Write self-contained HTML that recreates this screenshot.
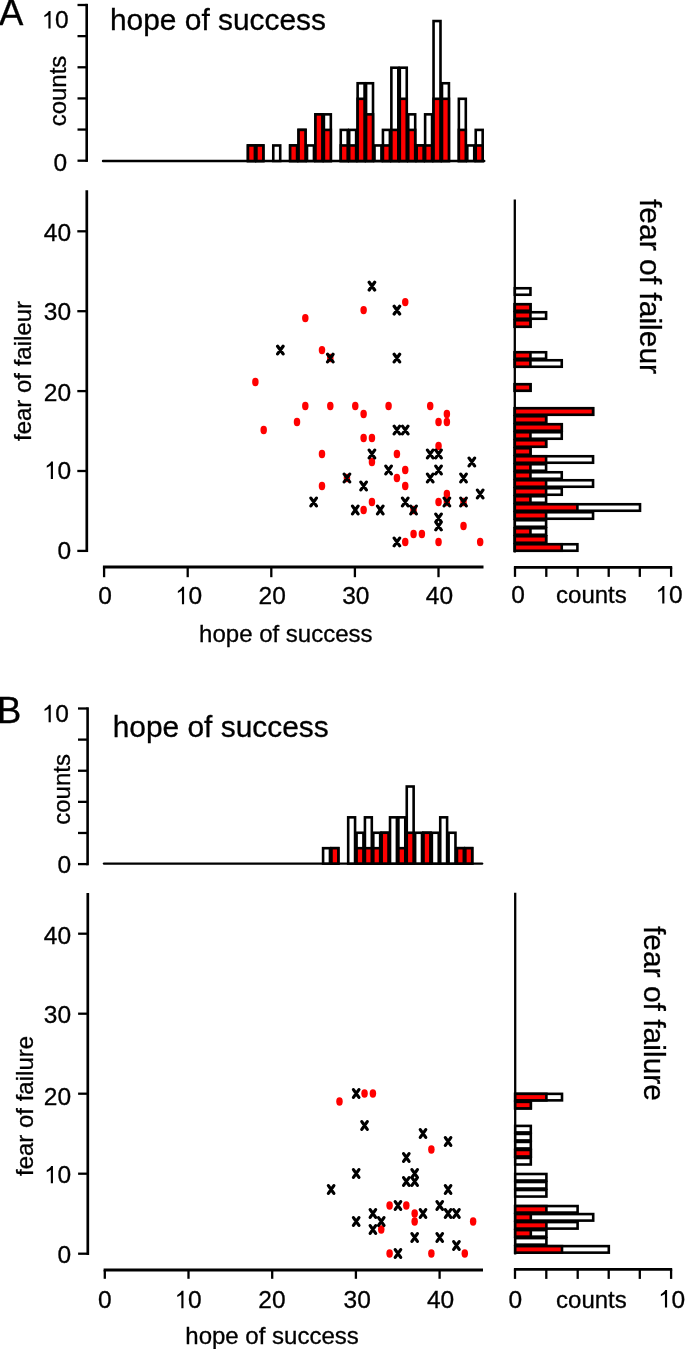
<!DOCTYPE html>
<html><head><meta charset="utf-8"><style>
html,body{margin:0;padding:0;background:#fff;}
body{width:685px;height:1349px;overflow:hidden;}
svg{display:block;will-change:transform;}
text{font-family:"Liberation Sans", sans-serif;fill:#000;stroke:#000;stroke-width:0.3px;}
</style></head><body>
<svg width="685" height="1349" viewBox="0 0 685 1349">
<rect x="0" y="0" width="685" height="1349" fill="#fff"/>
<text x="-0.9" y="25.4" font-size="36.5" text-anchor="start">A</text>
<line x1="103" y1="161" x2="484.22" y2="161" stroke="#000" stroke-width="2.4" stroke-linecap="round"/>
<rect x="247.96" y="145.45" width="6.94" height="15.55" fill="#fff" stroke="#000" stroke-width="2.6"/>
<rect x="247.96" y="145.45" width="6.94" height="15.55" fill="#ff0000" stroke="#000" stroke-width="2.6"/>
<rect x="256.4" y="145.45" width="6.94" height="15.55" fill="#fff" stroke="#000" stroke-width="2.6"/>
<rect x="256.4" y="145.45" width="6.94" height="15.55" fill="#ff0000" stroke="#000" stroke-width="2.6"/>
<rect x="273.27" y="145.45" width="6.94" height="15.55" fill="#fff" stroke="#000" stroke-width="2.6"/>
<rect x="290.14" y="145.45" width="6.94" height="15.55" fill="#fff" stroke="#000" stroke-width="2.6"/>
<rect x="290.14" y="145.45" width="6.94" height="15.55" fill="#ff0000" stroke="#000" stroke-width="2.6"/>
<rect x="298.58" y="129.9" width="6.94" height="31.1" fill="#fff" stroke="#000" stroke-width="2.6"/>
<rect x="298.58" y="129.9" width="6.94" height="31.1" fill="#ff0000" stroke="#000" stroke-width="2.6"/>
<rect x="307.01" y="145.45" width="6.94" height="15.55" fill="#fff" stroke="#000" stroke-width="2.6"/>
<rect x="315.45" y="114.35" width="6.94" height="46.65" fill="#fff" stroke="#000" stroke-width="2.6"/>
<rect x="315.45" y="114.35" width="6.94" height="46.65" fill="#ff0000" stroke="#000" stroke-width="2.6"/>
<rect x="323.89" y="114.35" width="6.94" height="46.65" fill="#fff" stroke="#000" stroke-width="2.6"/>
<rect x="323.89" y="129.9" width="6.94" height="31.1" fill="#ff0000" stroke="#000" stroke-width="2.6"/>
<rect x="340.76" y="129.9" width="6.94" height="31.1" fill="#fff" stroke="#000" stroke-width="2.6"/>
<rect x="340.76" y="145.45" width="6.94" height="15.55" fill="#ff0000" stroke="#000" stroke-width="2.6"/>
<rect x="349.19" y="129.9" width="6.94" height="31.1" fill="#fff" stroke="#000" stroke-width="2.6"/>
<rect x="349.19" y="145.45" width="6.94" height="15.55" fill="#ff0000" stroke="#000" stroke-width="2.6"/>
<rect x="357.63" y="83.25" width="6.94" height="77.75" fill="#fff" stroke="#000" stroke-width="2.6"/>
<rect x="357.63" y="98.8" width="6.94" height="62.2" fill="#ff0000" stroke="#000" stroke-width="2.6"/>
<rect x="366.07" y="83.25" width="6.94" height="77.75" fill="#fff" stroke="#000" stroke-width="2.6"/>
<rect x="366.07" y="114.35" width="6.94" height="46.65" fill="#ff0000" stroke="#000" stroke-width="2.6"/>
<rect x="374.5" y="145.45" width="6.94" height="15.55" fill="#fff" stroke="#000" stroke-width="2.6"/>
<rect x="382.94" y="129.9" width="6.94" height="31.1" fill="#fff" stroke="#000" stroke-width="2.6"/>
<rect x="382.94" y="145.45" width="6.94" height="15.55" fill="#ff0000" stroke="#000" stroke-width="2.6"/>
<rect x="391.37" y="67.7" width="6.94" height="93.3" fill="#fff" stroke="#000" stroke-width="2.6"/>
<rect x="391.37" y="129.9" width="6.94" height="31.1" fill="#ff0000" stroke="#000" stroke-width="2.6"/>
<rect x="399.81" y="67.7" width="6.94" height="93.3" fill="#fff" stroke="#000" stroke-width="2.6"/>
<rect x="399.81" y="98.8" width="6.94" height="62.2" fill="#ff0000" stroke="#000" stroke-width="2.6"/>
<rect x="408.25" y="114.35" width="6.94" height="46.65" fill="#fff" stroke="#000" stroke-width="2.6"/>
<rect x="408.25" y="129.9" width="6.94" height="31.1" fill="#ff0000" stroke="#000" stroke-width="2.6"/>
<rect x="416.68" y="145.45" width="6.94" height="15.55" fill="#fff" stroke="#000" stroke-width="2.6"/>
<rect x="416.68" y="145.45" width="6.94" height="15.55" fill="#ff0000" stroke="#000" stroke-width="2.6"/>
<rect x="425.12" y="114.35" width="6.94" height="46.65" fill="#fff" stroke="#000" stroke-width="2.6"/>
<rect x="425.12" y="145.45" width="6.94" height="15.55" fill="#ff0000" stroke="#000" stroke-width="2.6"/>
<rect x="433.55" y="21.05" width="6.94" height="139.95" fill="#fff" stroke="#000" stroke-width="2.6"/>
<rect x="433.55" y="98.8" width="6.94" height="62.2" fill="#ff0000" stroke="#000" stroke-width="2.6"/>
<rect x="441.99" y="83.25" width="6.94" height="77.75" fill="#fff" stroke="#000" stroke-width="2.6"/>
<rect x="441.99" y="98.8" width="6.94" height="62.2" fill="#ff0000" stroke="#000" stroke-width="2.6"/>
<rect x="458.86" y="98.8" width="6.94" height="62.2" fill="#fff" stroke="#000" stroke-width="2.6"/>
<rect x="458.86" y="129.9" width="6.94" height="31.1" fill="#ff0000" stroke="#000" stroke-width="2.6"/>
<rect x="467.3" y="145.45" width="6.94" height="15.55" fill="#fff" stroke="#000" stroke-width="2.6"/>
<rect x="475.73" y="129.9" width="6.94" height="31.1" fill="#fff" stroke="#000" stroke-width="2.6"/>
<rect x="475.73" y="145.45" width="6.94" height="15.55" fill="#ff0000" stroke="#000" stroke-width="2.6"/>
<line x1="86.7" y1="161.9" x2="86.7" y2="3.8" stroke="#000" stroke-width="2.6" stroke-linecap="butt"/>
<line x1="77.5" y1="160.7" x2="86.7" y2="160.7" stroke="#000" stroke-width="2.3" stroke-linecap="butt"/>
<line x1="77.5" y1="129.56" x2="86.7" y2="129.56" stroke="#000" stroke-width="2.3" stroke-linecap="butt"/>
<line x1="77.5" y1="98.42" x2="86.7" y2="98.42" stroke="#000" stroke-width="2.3" stroke-linecap="butt"/>
<line x1="77.5" y1="67.28" x2="86.7" y2="67.28" stroke="#000" stroke-width="2.3" stroke-linecap="butt"/>
<line x1="77.5" y1="36.14" x2="86.7" y2="36.14" stroke="#000" stroke-width="2.3" stroke-linecap="butt"/>
<line x1="77.5" y1="5" x2="86.7" y2="5" stroke="#000" stroke-width="2.3" stroke-linecap="butt"/>
<path d="M50.57 28.4H48.41V14.97L44.35 17.18V15.17C46.48 13.99 47.95 12.72 48.81 10.96H50.57Z" fill="#000"/>
<text x="55.08" y="28.4" font-size="24.5" text-anchor="start">0</text>
<text x="67.2" y="170.7" font-size="24.5" text-anchor="end">0</text>
<text x="66" y="91" font-size="24" text-anchor="middle" transform="rotate(-90 66 91)">counts</text>
<text x="110" y="29.7" font-size="29.9" text-anchor="start">hope of success</text>
<line x1="86.8" y1="190.2" x2="86.8" y2="552.1" stroke="#000" stroke-width="2.7" stroke-linecap="butt"/>
<line x1="77.3" y1="550.9" x2="87.8" y2="550.9" stroke="#000" stroke-width="2.3" stroke-linecap="butt"/>
<text x="71.1" y="559.35" font-size="24.5" text-anchor="end">0</text>
<line x1="77.3" y1="471" x2="87.8" y2="471" stroke="#000" stroke-width="2.3" stroke-linecap="butt"/>
<path d="M52.97 478.95H50.81V465.52L46.75 467.73V465.72C48.88 464.54 50.35 463.27 51.21 461.51H52.97Z" fill="#000"/>
<text x="57.48" y="478.95" font-size="24.5" text-anchor="start">0</text>
<line x1="77.3" y1="391.1" x2="87.8" y2="391.1" stroke="#000" stroke-width="2.3" stroke-linecap="butt"/>
<text x="71.1" y="400.95" font-size="24.5" text-anchor="end">20</text>
<line x1="77.3" y1="311.2" x2="87.8" y2="311.2" stroke="#000" stroke-width="2.3" stroke-linecap="butt"/>
<text x="71.1" y="319.85" font-size="24.5" text-anchor="end">30</text>
<line x1="77.3" y1="231.3" x2="87.8" y2="231.3" stroke="#000" stroke-width="2.3" stroke-linecap="butt"/>
<text x="71.1" y="240.75" font-size="24.5" text-anchor="end">40</text>
<line x1="102.9" y1="567" x2="483.5" y2="567" stroke="#000" stroke-width="2.9" stroke-linecap="butt"/>
<line x1="104.1" y1="567" x2="104.1" y2="577.2" stroke="#000" stroke-width="2.3" stroke-linecap="butt"/>
<text x="105" y="604.2" font-size="24.5" text-anchor="middle">0</text>
<line x1="187.7" y1="567" x2="187.7" y2="577.2" stroke="#000" stroke-width="2.3" stroke-linecap="butt"/>
<path d="M184.09 604.2H181.94V590.77L177.87 592.98V590.97C180 589.79 181.47 588.52 182.33 586.76H184.09Z" fill="#000"/>
<text x="188.6" y="604.2" font-size="24.5" text-anchor="start">0</text>
<line x1="271.3" y1="567" x2="271.3" y2="577.2" stroke="#000" stroke-width="2.3" stroke-linecap="butt"/>
<text x="272.2" y="604.2" font-size="24.5" text-anchor="middle">20</text>
<line x1="354.9" y1="567" x2="354.9" y2="577.2" stroke="#000" stroke-width="2.3" stroke-linecap="butt"/>
<text x="355.8" y="604.2" font-size="24.5" text-anchor="middle">30</text>
<line x1="438.5" y1="567" x2="438.5" y2="577.2" stroke="#000" stroke-width="2.3" stroke-linecap="butt"/>
<text x="439.4" y="604.2" font-size="24.5" text-anchor="middle">40</text>
<text x="199.1" y="641.9" font-size="24" text-anchor="start">hope of success</text>
<text x="31.4" y="441" font-size="24" text-anchor="start" transform="rotate(-90 31.4 441)">fear of faileur</text>
<ellipse cx="405.24" cy="302.11" rx="3.25" ry="4.2" fill="#ff0000"/>
<ellipse cx="363.61" cy="310.1" rx="3.25" ry="4.2" fill="#ff0000"/>
<ellipse cx="305.32" cy="318.1" rx="3.25" ry="4.2" fill="#ff0000"/>
<ellipse cx="321.98" cy="350.08" rx="3.25" ry="4.2" fill="#ff0000"/>
<ellipse cx="330.3" cy="358.07" rx="3.25" ry="4.2" fill="#ff0000"/>
<ellipse cx="255.37" cy="382.06" rx="3.25" ry="4.2" fill="#ff0000"/>
<ellipse cx="305.32" cy="406.04" rx="3.25" ry="4.2" fill="#ff0000"/>
<ellipse cx="330.3" cy="406.04" rx="3.25" ry="4.2" fill="#ff0000"/>
<ellipse cx="355.28" cy="406.04" rx="3.25" ry="4.2" fill="#ff0000"/>
<ellipse cx="388.58" cy="406.04" rx="3.25" ry="4.2" fill="#ff0000"/>
<ellipse cx="430.21" cy="406.04" rx="3.25" ry="4.2" fill="#ff0000"/>
<ellipse cx="363.61" cy="414.04" rx="3.25" ry="4.2" fill="#ff0000"/>
<ellipse cx="446.87" cy="414.04" rx="3.25" ry="4.2" fill="#ff0000"/>
<ellipse cx="297" cy="422.03" rx="3.25" ry="4.2" fill="#ff0000"/>
<ellipse cx="438.54" cy="422.03" rx="3.25" ry="4.2" fill="#ff0000"/>
<ellipse cx="446.87" cy="422.03" rx="3.25" ry="4.2" fill="#ff0000"/>
<ellipse cx="263.69" cy="430.03" rx="3.25" ry="4.2" fill="#ff0000"/>
<ellipse cx="363.61" cy="438.02" rx="3.25" ry="4.2" fill="#ff0000"/>
<ellipse cx="371.93" cy="438.02" rx="3.25" ry="4.2" fill="#ff0000"/>
<ellipse cx="438.54" cy="446.02" rx="3.25" ry="4.2" fill="#ff0000"/>
<ellipse cx="321.98" cy="454.01" rx="3.25" ry="4.2" fill="#ff0000"/>
<ellipse cx="396.91" cy="454.01" rx="3.25" ry="4.2" fill="#ff0000"/>
<ellipse cx="371.93" cy="462.01" rx="3.25" ry="4.2" fill="#ff0000"/>
<ellipse cx="405.24" cy="470" rx="3.25" ry="4.2" fill="#ff0000"/>
<ellipse cx="346.95" cy="478" rx="3.25" ry="4.2" fill="#ff0000"/>
<ellipse cx="396.91" cy="478" rx="3.25" ry="4.2" fill="#ff0000"/>
<ellipse cx="321.98" cy="485.99" rx="3.25" ry="4.2" fill="#ff0000"/>
<ellipse cx="405.24" cy="485.99" rx="3.25" ry="4.2" fill="#ff0000"/>
<ellipse cx="446.87" cy="493.99" rx="3.25" ry="4.2" fill="#ff0000"/>
<ellipse cx="371.93" cy="501.98" rx="3.25" ry="4.2" fill="#ff0000"/>
<ellipse cx="438.54" cy="501.98" rx="3.25" ry="4.2" fill="#ff0000"/>
<ellipse cx="446.87" cy="501.98" rx="3.25" ry="4.2" fill="#ff0000"/>
<ellipse cx="463.52" cy="501.98" rx="3.25" ry="4.2" fill="#ff0000"/>
<ellipse cx="363.61" cy="509.98" rx="3.25" ry="4.2" fill="#ff0000"/>
<ellipse cx="413.56" cy="509.98" rx="3.25" ry="4.2" fill="#ff0000"/>
<ellipse cx="463.52" cy="525.97" rx="3.25" ry="4.2" fill="#ff0000"/>
<ellipse cx="413.56" cy="533.96" rx="3.25" ry="4.2" fill="#ff0000"/>
<ellipse cx="421.89" cy="533.96" rx="3.25" ry="4.2" fill="#ff0000"/>
<ellipse cx="405.24" cy="541.96" rx="3.25" ry="4.2" fill="#ff0000"/>
<ellipse cx="438.54" cy="541.96" rx="3.25" ry="4.2" fill="#ff0000"/>
<ellipse cx="480.17" cy="541.96" rx="3.25" ry="4.2" fill="#ff0000"/>
<path d="M369.18 282.27L374.68 289.97M369.18 289.97L374.68 282.27M394.16 306.25L399.66 313.95M394.16 313.95L399.66 306.25M277.6 346.23L283.1 353.93M277.6 353.93L283.1 346.23M327.55 354.22L333.05 361.92M327.55 361.92L333.05 354.22M394.16 354.22L399.66 361.92M394.16 361.92L399.66 354.22M394.16 426.18L399.66 433.88M394.16 433.88L399.66 426.18M402.49 426.18L407.99 433.88M402.49 433.88L407.99 426.18M369.18 450.16L374.68 457.86M369.18 457.86L374.68 450.16M427.46 450.16L432.96 457.86M427.46 457.86L432.96 450.16M435.79 450.16L441.29 457.86M435.79 457.86L441.29 450.16M469.09 458.16L474.59 465.86M469.09 465.86L474.59 458.16M385.83 466.15L391.33 473.85M385.83 473.85L391.33 466.15M435.79 466.15L441.29 473.85M435.79 473.85L441.29 466.15M344.2 474.15L349.7 481.85M344.2 481.85L349.7 474.15M427.46 474.15L432.96 481.85M427.46 481.85L432.96 474.15M460.77 474.15L466.27 481.85M460.77 481.85L466.27 474.15M360.86 482.14L366.36 489.84M360.86 489.84L366.36 482.14M477.42 490.13L482.92 497.84M477.42 497.84L482.92 490.13M310.9 498.13L316.4 505.83M310.9 505.83L316.4 498.13M402.49 498.13L407.99 505.83M402.49 505.83L407.99 498.13M444.12 498.13L449.62 505.83M444.12 505.83L449.62 498.13M460.77 498.13L466.27 505.83M460.77 505.83L466.27 498.13M352.53 506.12L358.03 513.83M352.53 513.83L358.03 506.12M377.51 506.12L383.01 513.83M377.51 513.83L383.01 506.12M410.81 506.12L416.31 513.83M410.81 513.83L416.31 506.12M435.79 514.12L441.29 521.82M435.79 521.82L441.29 514.12M435.79 522.12L441.29 529.82M435.79 529.82L441.29 522.12M394.16 538.11L399.66 545.81M394.16 545.81L399.66 538.11" stroke="#000" stroke-width="3.2" stroke-linecap="round" fill="none"/>
<line x1="514.8" y1="552.5" x2="514.8" y2="199.5" stroke="#000" stroke-width="2.3" stroke-linecap="butt"/>
<rect x="514.8" y="544.25" width="62.6" height="6.5" fill="#fff" stroke="#000" stroke-width="2.6"/>
<rect x="514.8" y="544.25" width="46.95" height="6.5" fill="#ff0000" stroke="#000" stroke-width="2.6"/>
<rect x="514.8" y="536.25" width="31.3" height="6.5" fill="#fff" stroke="#000" stroke-width="2.6"/>
<rect x="514.8" y="536.25" width="31.3" height="6.5" fill="#ff0000" stroke="#000" stroke-width="2.6"/>
<rect x="514.8" y="528.25" width="31.3" height="6.5" fill="#fff" stroke="#000" stroke-width="2.6"/>
<rect x="514.8" y="528.25" width="15.65" height="6.5" fill="#ff0000" stroke="#000" stroke-width="2.6"/>
<rect x="514.8" y="520.25" width="31.3" height="6.5" fill="#fff" stroke="#000" stroke-width="2.6"/>
<rect x="514.8" y="512.25" width="78.25" height="6.5" fill="#fff" stroke="#000" stroke-width="2.6"/>
<rect x="514.8" y="512.25" width="31.3" height="6.5" fill="#ff0000" stroke="#000" stroke-width="2.6"/>
<rect x="514.8" y="504.25" width="125.2" height="6.5" fill="#fff" stroke="#000" stroke-width="2.6"/>
<rect x="514.8" y="504.25" width="62.6" height="6.5" fill="#ff0000" stroke="#000" stroke-width="2.6"/>
<rect x="514.8" y="496.25" width="31.3" height="6.5" fill="#fff" stroke="#000" stroke-width="2.6"/>
<rect x="514.8" y="496.25" width="15.65" height="6.5" fill="#ff0000" stroke="#000" stroke-width="2.6"/>
<rect x="514.8" y="488.25" width="46.95" height="6.5" fill="#fff" stroke="#000" stroke-width="2.6"/>
<rect x="514.8" y="488.25" width="31.3" height="6.5" fill="#ff0000" stroke="#000" stroke-width="2.6"/>
<rect x="514.8" y="480.25" width="78.25" height="6.5" fill="#fff" stroke="#000" stroke-width="2.6"/>
<rect x="514.8" y="480.25" width="31.3" height="6.5" fill="#ff0000" stroke="#000" stroke-width="2.6"/>
<rect x="514.8" y="472.25" width="46.95" height="6.5" fill="#fff" stroke="#000" stroke-width="2.6"/>
<rect x="514.8" y="472.25" width="15.65" height="6.5" fill="#ff0000" stroke="#000" stroke-width="2.6"/>
<rect x="514.8" y="464.25" width="31.3" height="6.5" fill="#fff" stroke="#000" stroke-width="2.6"/>
<rect x="514.8" y="464.25" width="15.65" height="6.5" fill="#ff0000" stroke="#000" stroke-width="2.6"/>
<rect x="514.8" y="456.25" width="78.25" height="6.5" fill="#fff" stroke="#000" stroke-width="2.6"/>
<rect x="514.8" y="456.25" width="31.3" height="6.5" fill="#ff0000" stroke="#000" stroke-width="2.6"/>
<rect x="514.8" y="448.25" width="15.65" height="6.5" fill="#fff" stroke="#000" stroke-width="2.6"/>
<rect x="514.8" y="448.25" width="15.65" height="6.5" fill="#ff0000" stroke="#000" stroke-width="2.6"/>
<rect x="514.8" y="440.25" width="31.3" height="6.5" fill="#fff" stroke="#000" stroke-width="2.6"/>
<rect x="514.8" y="440.25" width="31.3" height="6.5" fill="#ff0000" stroke="#000" stroke-width="2.6"/>
<rect x="514.8" y="432.25" width="46.95" height="6.5" fill="#fff" stroke="#000" stroke-width="2.6"/>
<rect x="514.8" y="432.25" width="15.65" height="6.5" fill="#ff0000" stroke="#000" stroke-width="2.6"/>
<rect x="514.8" y="424.25" width="46.95" height="6.5" fill="#fff" stroke="#000" stroke-width="2.6"/>
<rect x="514.8" y="424.25" width="46.95" height="6.5" fill="#ff0000" stroke="#000" stroke-width="2.6"/>
<rect x="514.8" y="416.25" width="31.3" height="6.5" fill="#fff" stroke="#000" stroke-width="2.6"/>
<rect x="514.8" y="416.25" width="31.3" height="6.5" fill="#ff0000" stroke="#000" stroke-width="2.6"/>
<rect x="514.8" y="408.25" width="78.25" height="6.5" fill="#fff" stroke="#000" stroke-width="2.6"/>
<rect x="514.8" y="408.25" width="78.25" height="6.5" fill="#ff0000" stroke="#000" stroke-width="2.6"/>
<rect x="514.8" y="384.25" width="15.65" height="6.5" fill="#fff" stroke="#000" stroke-width="2.6"/>
<rect x="514.8" y="384.25" width="15.65" height="6.5" fill="#ff0000" stroke="#000" stroke-width="2.6"/>
<rect x="514.8" y="360.25" width="46.95" height="6.5" fill="#fff" stroke="#000" stroke-width="2.6"/>
<rect x="514.8" y="360.25" width="15.65" height="6.5" fill="#ff0000" stroke="#000" stroke-width="2.6"/>
<rect x="514.8" y="352.25" width="31.3" height="6.5" fill="#fff" stroke="#000" stroke-width="2.6"/>
<rect x="514.8" y="352.25" width="15.65" height="6.5" fill="#ff0000" stroke="#000" stroke-width="2.6"/>
<rect x="514.8" y="320.25" width="15.65" height="6.5" fill="#fff" stroke="#000" stroke-width="2.6"/>
<rect x="514.8" y="320.25" width="15.65" height="6.5" fill="#ff0000" stroke="#000" stroke-width="2.6"/>
<rect x="514.8" y="312.25" width="31.3" height="6.5" fill="#fff" stroke="#000" stroke-width="2.6"/>
<rect x="514.8" y="312.25" width="15.65" height="6.5" fill="#ff0000" stroke="#000" stroke-width="2.6"/>
<rect x="514.8" y="304.25" width="15.65" height="6.5" fill="#fff" stroke="#000" stroke-width="2.6"/>
<rect x="514.8" y="304.25" width="15.65" height="6.5" fill="#ff0000" stroke="#000" stroke-width="2.6"/>
<rect x="514.8" y="288.25" width="15.65" height="6.5" fill="#fff" stroke="#000" stroke-width="2.6"/>
<line x1="513.9" y1="567.4" x2="672.2" y2="567.4" stroke="#000" stroke-width="2.6" stroke-linecap="butt"/>
<line x1="515" y1="567.4" x2="515" y2="576.9" stroke="#000" stroke-width="2.3" stroke-linecap="butt"/>
<line x1="546.3" y1="567.4" x2="546.3" y2="576.9" stroke="#000" stroke-width="2.3" stroke-linecap="butt"/>
<line x1="577.7" y1="567.4" x2="577.7" y2="576.9" stroke="#000" stroke-width="2.3" stroke-linecap="butt"/>
<line x1="608.7" y1="567.4" x2="608.7" y2="576.9" stroke="#000" stroke-width="2.3" stroke-linecap="butt"/>
<line x1="639.8" y1="567.4" x2="639.8" y2="576.9" stroke="#000" stroke-width="2.3" stroke-linecap="butt"/>
<line x1="671.1" y1="567.4" x2="671.1" y2="576.9" stroke="#000" stroke-width="2.3" stroke-linecap="butt"/>
<text x="518.05" y="603.4" font-size="24.5" text-anchor="middle">0</text>
<text x="591.4" y="603.4" font-size="24" text-anchor="middle">counts</text>
<path d="M664.39 603.4H662.24V589.97L658.17 592.18V590.17C660.3 588.99 661.77 587.72 662.63 585.96H664.39Z" fill="#000"/>
<text x="668.9" y="603.4" font-size="24.5" text-anchor="start">0</text>
<text x="639.9" y="199" font-size="30" text-anchor="start" transform="rotate(90 639.9 199)">fear of faileur</text>
<text x="-3" y="722.8" font-size="36.5" text-anchor="start">B</text>
<line x1="104" y1="863.6" x2="482.12" y2="863.6" stroke="#000" stroke-width="2.4" stroke-linecap="round"/>
<rect x="323.09" y="848.18" width="6.87" height="15.42" fill="#fff" stroke="#000" stroke-width="2.6"/>
<rect x="331.46" y="848.18" width="6.87" height="15.42" fill="#fff" stroke="#000" stroke-width="2.6"/>
<rect x="331.46" y="848.18" width="6.87" height="15.42" fill="#ff0000" stroke="#000" stroke-width="2.6"/>
<rect x="348.19" y="817.34" width="6.87" height="46.26" fill="#fff" stroke="#000" stroke-width="2.6"/>
<rect x="356.56" y="832.76" width="6.87" height="30.84" fill="#fff" stroke="#000" stroke-width="2.6"/>
<rect x="356.56" y="848.18" width="6.87" height="15.42" fill="#ff0000" stroke="#000" stroke-width="2.6"/>
<rect x="364.93" y="817.34" width="6.87" height="46.26" fill="#fff" stroke="#000" stroke-width="2.6"/>
<rect x="364.93" y="848.18" width="6.87" height="15.42" fill="#ff0000" stroke="#000" stroke-width="2.6"/>
<rect x="373.29" y="832.76" width="6.87" height="30.84" fill="#fff" stroke="#000" stroke-width="2.6"/>
<rect x="373.29" y="848.18" width="6.87" height="15.42" fill="#ff0000" stroke="#000" stroke-width="2.6"/>
<rect x="381.66" y="832.76" width="6.87" height="30.84" fill="#fff" stroke="#000" stroke-width="2.6"/>
<rect x="381.66" y="832.76" width="6.87" height="30.84" fill="#ff0000" stroke="#000" stroke-width="2.6"/>
<rect x="390.03" y="817.34" width="6.87" height="46.26" fill="#fff" stroke="#000" stroke-width="2.6"/>
<rect x="398.4" y="817.34" width="6.87" height="46.26" fill="#fff" stroke="#000" stroke-width="2.6"/>
<rect x="398.4" y="848.18" width="6.87" height="15.42" fill="#ff0000" stroke="#000" stroke-width="2.6"/>
<rect x="406.76" y="786.5" width="6.87" height="77.1" fill="#fff" stroke="#000" stroke-width="2.6"/>
<rect x="406.76" y="832.76" width="6.87" height="30.84" fill="#ff0000" stroke="#000" stroke-width="2.6"/>
<rect x="415.13" y="832.76" width="6.87" height="30.84" fill="#fff" stroke="#000" stroke-width="2.6"/>
<rect x="423.5" y="832.76" width="6.87" height="30.84" fill="#fff" stroke="#000" stroke-width="2.6"/>
<rect x="423.5" y="832.76" width="6.87" height="30.84" fill="#ff0000" stroke="#000" stroke-width="2.6"/>
<rect x="431.86" y="832.76" width="6.87" height="30.84" fill="#fff" stroke="#000" stroke-width="2.6"/>
<rect x="440.23" y="817.34" width="6.87" height="46.26" fill="#fff" stroke="#000" stroke-width="2.6"/>
<rect x="448.6" y="832.76" width="6.87" height="30.84" fill="#fff" stroke="#000" stroke-width="2.6"/>
<rect x="456.96" y="848.18" width="6.87" height="15.42" fill="#fff" stroke="#000" stroke-width="2.6"/>
<rect x="456.96" y="848.18" width="6.87" height="15.42" fill="#ff0000" stroke="#000" stroke-width="2.6"/>
<rect x="465.33" y="848.18" width="6.87" height="15.42" fill="#fff" stroke="#000" stroke-width="2.6"/>
<rect x="465.33" y="848.18" width="6.87" height="15.42" fill="#ff0000" stroke="#000" stroke-width="2.6"/>
<line x1="87.6" y1="865.3" x2="87.6" y2="707.3" stroke="#000" stroke-width="2.6" stroke-linecap="butt"/>
<line x1="78" y1="864.1" x2="87.6" y2="864.1" stroke="#000" stroke-width="2.3" stroke-linecap="butt"/>
<line x1="78" y1="832.98" x2="87.6" y2="832.98" stroke="#000" stroke-width="2.3" stroke-linecap="butt"/>
<line x1="78" y1="801.86" x2="87.6" y2="801.86" stroke="#000" stroke-width="2.3" stroke-linecap="butt"/>
<line x1="78" y1="770.74" x2="87.6" y2="770.74" stroke="#000" stroke-width="2.3" stroke-linecap="butt"/>
<line x1="78" y1="739.62" x2="87.6" y2="739.62" stroke="#000" stroke-width="2.3" stroke-linecap="butt"/>
<line x1="78" y1="708.5" x2="87.6" y2="708.5" stroke="#000" stroke-width="2.3" stroke-linecap="butt"/>
<path d="M50.77 722.2H48.61V708.77L44.55 710.98V708.97C46.68 707.79 48.15 706.52 49.01 704.76H50.77Z" fill="#000"/>
<text x="55.28" y="722.2" font-size="24.5" text-anchor="start">0</text>
<text x="71.2" y="872.6" font-size="24.5" text-anchor="end">0</text>
<text x="69.9" y="789.4" font-size="24" text-anchor="middle" transform="rotate(-90 69.9 789.4)">counts</text>
<text x="112.7" y="736.8" font-size="29.9" text-anchor="start">hope of success</text>
<line x1="87.8" y1="892.9" x2="87.8" y2="1254.9" stroke="#000" stroke-width="2.7" stroke-linecap="butt"/>
<line x1="78.1" y1="1253.7" x2="88.8" y2="1253.7" stroke="#000" stroke-width="2.3" stroke-linecap="butt"/>
<text x="71.1" y="1262.85" font-size="24.5" text-anchor="end">0</text>
<line x1="78.1" y1="1173.7" x2="88.8" y2="1173.7" stroke="#000" stroke-width="2.3" stroke-linecap="butt"/>
<path d="M52.97 1183.35H50.81V1169.92L46.75 1172.13V1170.12C48.88 1168.94 50.35 1167.67 51.21 1165.91H52.97Z" fill="#000"/>
<text x="57.48" y="1183.35" font-size="24.5" text-anchor="start">0</text>
<line x1="78.1" y1="1093.7" x2="88.8" y2="1093.7" stroke="#000" stroke-width="2.3" stroke-linecap="butt"/>
<text x="71.1" y="1104.65" font-size="24.5" text-anchor="end">20</text>
<line x1="78.1" y1="1013.7" x2="88.8" y2="1013.7" stroke="#000" stroke-width="2.3" stroke-linecap="butt"/>
<text x="71.1" y="1022.65" font-size="24.5" text-anchor="end">30</text>
<line x1="78.1" y1="933.7" x2="88.8" y2="933.7" stroke="#000" stroke-width="2.3" stroke-linecap="butt"/>
<text x="71.1" y="944.45" font-size="24.5" text-anchor="end">40</text>
<line x1="103.6" y1="1270" x2="483" y2="1270" stroke="#000" stroke-width="2.9" stroke-linecap="butt"/>
<line x1="104.8" y1="1270" x2="104.8" y2="1278.8" stroke="#000" stroke-width="2.3" stroke-linecap="butt"/>
<text x="104.8" y="1308.3" font-size="24.5" text-anchor="middle">0</text>
<line x1="188.5" y1="1270" x2="188.5" y2="1278.8" stroke="#000" stroke-width="2.3" stroke-linecap="butt"/>
<path d="M183.49 1308.3H181.34V1294.87L177.27 1297.08V1295.07C179.4 1293.89 180.87 1292.62 181.73 1290.86H183.49Z" fill="#000"/>
<text x="188" y="1308.3" font-size="24.5" text-anchor="start">0</text>
<line x1="272.2" y1="1270" x2="272.2" y2="1278.8" stroke="#000" stroke-width="2.3" stroke-linecap="butt"/>
<text x="271.9" y="1308.3" font-size="24.5" text-anchor="middle">20</text>
<line x1="355.9" y1="1270" x2="355.9" y2="1278.8" stroke="#000" stroke-width="2.3" stroke-linecap="butt"/>
<text x="357.2" y="1308.3" font-size="24.5" text-anchor="middle">30</text>
<line x1="439.6" y1="1270" x2="439.6" y2="1278.8" stroke="#000" stroke-width="2.3" stroke-linecap="butt"/>
<text x="440.6" y="1308.3" font-size="24.5" text-anchor="middle">40</text>
<text x="185.3" y="1343.6" font-size="24" text-anchor="start">hope of success</text>
<text x="33.3" y="1176" font-size="24" text-anchor="start" transform="rotate(-90 33.3 1176)">fear of failure</text>
<ellipse cx="339.48" cy="1101.5" rx="3.25" ry="4.2" fill="#ff0000"/>
<ellipse cx="364.54" cy="1093.5" rx="3.25" ry="4.2" fill="#ff0000"/>
<ellipse cx="372.9" cy="1093.5" rx="3.25" ry="4.2" fill="#ff0000"/>
<ellipse cx="431.37" cy="1149.5" rx="3.25" ry="4.2" fill="#ff0000"/>
<ellipse cx="389.6" cy="1205.5" rx="3.25" ry="4.2" fill="#ff0000"/>
<ellipse cx="406.31" cy="1205.5" rx="3.25" ry="4.2" fill="#ff0000"/>
<ellipse cx="414.66" cy="1213.5" rx="3.25" ry="4.2" fill="#ff0000"/>
<ellipse cx="414.66" cy="1221.5" rx="3.25" ry="4.2" fill="#ff0000"/>
<ellipse cx="473.13" cy="1221.5" rx="3.25" ry="4.2" fill="#ff0000"/>
<ellipse cx="381.25" cy="1229.5" rx="3.25" ry="4.2" fill="#ff0000"/>
<ellipse cx="389.6" cy="1253.5" rx="3.25" ry="4.2" fill="#ff0000"/>
<ellipse cx="431.37" cy="1253.5" rx="3.25" ry="4.2" fill="#ff0000"/>
<ellipse cx="464.78" cy="1253.5" rx="3.25" ry="4.2" fill="#ff0000"/>
<path d="M353.44 1089.65L358.94 1097.35M353.44 1097.35L358.94 1089.65M361.79 1121.65L367.29 1129.35M361.79 1129.35L367.29 1121.65M420.26 1129.65L425.76 1137.35M420.26 1137.35L425.76 1129.65M445.32 1137.65L450.82 1145.35M445.32 1145.35L450.82 1137.65M403.56 1153.65L409.06 1161.35M403.56 1161.35L409.06 1153.65M353.44 1169.65L358.94 1177.35M353.44 1177.35L358.94 1169.65M411.91 1169.65L417.41 1177.35M411.91 1177.35L417.41 1169.65M403.56 1177.65L409.06 1185.35M403.56 1185.35L409.06 1177.65M411.91 1177.65L417.41 1185.35M411.91 1185.35L417.41 1177.65M328.38 1185.65L333.88 1193.35M328.38 1193.35L333.88 1185.65M445.32 1185.65L450.82 1193.35M445.32 1193.35L450.82 1185.65M395.21 1201.65L400.71 1209.35M395.21 1209.35L400.71 1201.65M436.97 1201.65L442.47 1209.35M436.97 1209.35L442.47 1201.65M370.15 1209.65L375.65 1217.35M370.15 1217.35L375.65 1209.65M420.26 1209.65L425.76 1217.35M420.26 1217.35L425.76 1209.65M445.32 1209.65L450.82 1217.35M445.32 1217.35L450.82 1209.65M453.68 1209.65L459.18 1217.35M453.68 1217.35L459.18 1209.65M353.44 1217.65L358.94 1225.35M353.44 1225.35L358.94 1217.65M378.5 1217.65L384 1225.35M378.5 1225.35L384 1217.65M370.15 1225.65L375.65 1233.35M370.15 1233.35L375.65 1225.65M411.91 1233.65L417.41 1241.35M411.91 1241.35L417.41 1233.65M436.97 1233.65L442.47 1241.35M436.97 1241.35L442.47 1233.65M453.68 1241.65L459.18 1249.35M453.68 1249.35L459.18 1241.65M395.21 1249.65L400.71 1257.35M395.21 1257.35L400.71 1249.65" stroke="#000" stroke-width="3.2" stroke-linecap="round" fill="none"/>
<line x1="515.2" y1="1254.4" x2="515.2" y2="892.73" stroke="#000" stroke-width="2.3" stroke-linecap="butt"/>
<rect x="515.2" y="1246.13" width="93.6" height="6.52" fill="#fff" stroke="#000" stroke-width="2.6"/>
<rect x="515.2" y="1246.13" width="46.8" height="6.52" fill="#ff0000" stroke="#000" stroke-width="2.6"/>
<rect x="515.2" y="1238.12" width="31.2" height="6.52" fill="#fff" stroke="#000" stroke-width="2.6"/>
<rect x="515.2" y="1230.11" width="31.2" height="6.52" fill="#fff" stroke="#000" stroke-width="2.6"/>
<rect x="515.2" y="1230.11" width="15.6" height="6.52" fill="#ff0000" stroke="#000" stroke-width="2.6"/>
<rect x="515.2" y="1222.09" width="62.4" height="6.52" fill="#fff" stroke="#000" stroke-width="2.6"/>
<rect x="515.2" y="1222.09" width="31.2" height="6.52" fill="#ff0000" stroke="#000" stroke-width="2.6"/>
<rect x="515.2" y="1214.08" width="78" height="6.52" fill="#fff" stroke="#000" stroke-width="2.6"/>
<rect x="515.2" y="1214.08" width="15.6" height="6.52" fill="#ff0000" stroke="#000" stroke-width="2.6"/>
<rect x="515.2" y="1206.06" width="62.4" height="6.52" fill="#fff" stroke="#000" stroke-width="2.6"/>
<rect x="515.2" y="1206.06" width="31.2" height="6.52" fill="#ff0000" stroke="#000" stroke-width="2.6"/>
<rect x="515.2" y="1190.03" width="31.2" height="6.52" fill="#fff" stroke="#000" stroke-width="2.6"/>
<rect x="515.2" y="1182.02" width="31.2" height="6.52" fill="#fff" stroke="#000" stroke-width="2.6"/>
<rect x="515.2" y="1174" width="31.2" height="6.52" fill="#fff" stroke="#000" stroke-width="2.6"/>
<rect x="515.2" y="1157.97" width="15.6" height="6.52" fill="#fff" stroke="#000" stroke-width="2.6"/>
<rect x="515.2" y="1149.96" width="15.6" height="6.52" fill="#fff" stroke="#000" stroke-width="2.6"/>
<rect x="515.2" y="1149.96" width="15.6" height="6.52" fill="#ff0000" stroke="#000" stroke-width="2.6"/>
<rect x="515.2" y="1141.94" width="15.6" height="6.52" fill="#fff" stroke="#000" stroke-width="2.6"/>
<rect x="515.2" y="1133.93" width="15.6" height="6.52" fill="#fff" stroke="#000" stroke-width="2.6"/>
<rect x="515.2" y="1125.91" width="15.6" height="6.52" fill="#fff" stroke="#000" stroke-width="2.6"/>
<rect x="515.2" y="1101.87" width="15.6" height="6.52" fill="#fff" stroke="#000" stroke-width="2.6"/>
<rect x="515.2" y="1101.87" width="15.6" height="6.52" fill="#ff0000" stroke="#000" stroke-width="2.6"/>
<rect x="515.2" y="1093.85" width="46.8" height="6.52" fill="#fff" stroke="#000" stroke-width="2.6"/>
<rect x="515.2" y="1093.85" width="31.2" height="6.52" fill="#ff0000" stroke="#000" stroke-width="2.6"/>
<line x1="513.9" y1="1269.4" x2="672.2" y2="1269.4" stroke="#000" stroke-width="2.6" stroke-linecap="butt"/>
<line x1="515" y1="1269.4" x2="515" y2="1278.9" stroke="#000" stroke-width="2.3" stroke-linecap="butt"/>
<line x1="546.3" y1="1269.4" x2="546.3" y2="1278.9" stroke="#000" stroke-width="2.3" stroke-linecap="butt"/>
<line x1="577.7" y1="1269.4" x2="577.7" y2="1278.9" stroke="#000" stroke-width="2.3" stroke-linecap="butt"/>
<line x1="608.7" y1="1269.4" x2="608.7" y2="1278.9" stroke="#000" stroke-width="2.3" stroke-linecap="butt"/>
<line x1="639.8" y1="1269.4" x2="639.8" y2="1278.9" stroke="#000" stroke-width="2.3" stroke-linecap="butt"/>
<line x1="671.1" y1="1269.4" x2="671.1" y2="1278.9" stroke="#000" stroke-width="2.3" stroke-linecap="butt"/>
<text x="515.4" y="1307.5" font-size="24.5" text-anchor="middle">0</text>
<text x="591.4" y="1307.5" font-size="24" text-anchor="middle">counts</text>
<path d="M667.09 1307.5H664.94V1294.07L660.87 1296.28V1294.27C663 1293.09 664.47 1291.82 665.33 1290.06H667.09Z" fill="#000"/>
<text x="671.6" y="1307.5" font-size="24.5" text-anchor="start">0</text>
<text x="644.3" y="925.9" font-size="30" text-anchor="start" transform="rotate(90 644.3 925.9)">fear of failure</text>
</svg>
</body></html>
